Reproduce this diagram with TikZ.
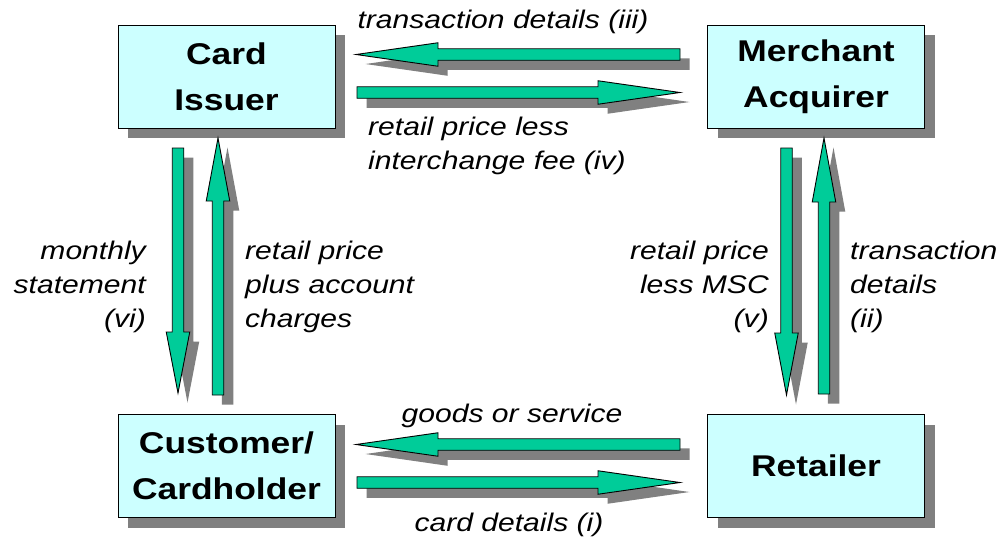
\documentclass[tikz,border=0pt]{standalone}
\usepackage{fontspec}
\setmainfont{Liberation Sans}[FakeStretch=1.18]
\usepackage{tikz}
\usetikzlibrary{positioning, calc, shadows}
\definecolor{boxcyan}{HTML}{CCFFFF}
\definecolor{flowgreen}{HTML}{00CC99}
\definecolor{shadowgray}{HTML}{808080}

% block arrow with its shadow: tail, direction, length, head length
\newcommand{\flowarrow}[4]{%
  \begin{scope}[shift={(#1)}]
    \fill[shadowgray, shift={(9.5,9.5)}, rotate=#2]
      (0,-5.75) -- (#3-#4,-5.75) -- (#3-#4,-11.75) -- (#3,0)
      -- (#3-#4,11.75) -- (#3-#4,5.75) -- (0,5.75) -- cycle;
    \filldraw[fill=flowgreen, draw=black, line width=0.9pt, line join=miter, rotate=#2]
      (0,-5.75) -- (#3-#4,-5.75) -- (#3-#4,-11.75) -- (#3,0)
      -- (#3-#4,11.75) -- (#3-#4,5.75) -- (0,5.75) -- cycle;
  \end{scope}}

\begin{document}
\begin{tikzpicture}[
    x=1pt, y=-1pt,
    party/.style={rectangle, draw=black, line width=0.9pt, fill=boxcyan,
        minimum width=217pt, minimum height=103pt, align=center,
        font=\fontsize{30}{46}\selectfont\bfseries,
        drop shadow={shadow xshift=10pt, shadow yshift=-10pt, fill=shadowgray, opacity=1}},
    flowlabel/.style={font=\fontsize{25.5}{34}\selectfont\itshape, inner sep=0pt},
]
\useasboundingbox (0,0) rectangle (1005,542);

% Parties
\node[party] (issuer) at (226.5,76.5) {Card\\Issuer};
\node[party] (acquirer) at (816,76.5) {Merchant\\Acquirer};
\node[party] (customer) at (226.5,466) {Customer/\\Cardholder};
\node[party] (retailer) at (816,466) {Retailer};

% Arrow ends
\coordinate (iii-tail) at (680,54.5);
\coordinate (iv-tail) at (357,92.5);
\coordinate (goods-tail) at (680,444.5);
\coordinate (i-tail) at (357,482.5);
\coordinate (vi-tail) at (178,148);
\coordinate (pay-tail) at (218,395);
\coordinate (v-tail) at (786.5,148);
\coordinate (ii-tail) at (824,394);

% Flows between issuer and acquirer
\flowarrow{iii-tail}{180}{324}{82}
\flowarrow{iv-tail}{0}{323}{82}

% Flows between customer and retailer
\flowarrow{goods-tail}{180}{324}{82}
\flowarrow{i-tail}{0}{323}{82}

% Flows between issuer and customer
\flowarrow{vi-tail}{270}{245}{61}
\flowarrow{pay-tail}{90}{257}{63}

% Flows between acquirer and retailer
\flowarrow{v-tail}{270}{247}{62}
\flowarrow{ii-tail}{90}{256}{64}

% Labels
\node[flowlabel] (lbl-iii) at (503,22) {transaction details (iii)};
\node[flowlabel, anchor=west, align=left] (lbl-iv) at (368,146) {retail price less\\interchange fee (iv)};
\node[flowlabel, anchor=east, align=right] (lbl-vi) at (146,287) {monthly\\statement\\(vi)};
\node[flowlabel, anchor=west, align=left] (lbl-pay) at (245,287) {retail price\\plus account\\charges};
\node[flowlabel, anchor=east, align=right] (lbl-v) at (769,287) {retail price\\less MSC\\(v)};
\node[flowlabel, anchor=west, align=left] (lbl-ii) at (850,287) {transaction\\details\\(ii)};
\node[flowlabel] (lbl-goods) at (512,416) {goods or service};
\node[flowlabel] (lbl-i) at (509,525) {card details (i)};

\end{tikzpicture}
\end{document}
